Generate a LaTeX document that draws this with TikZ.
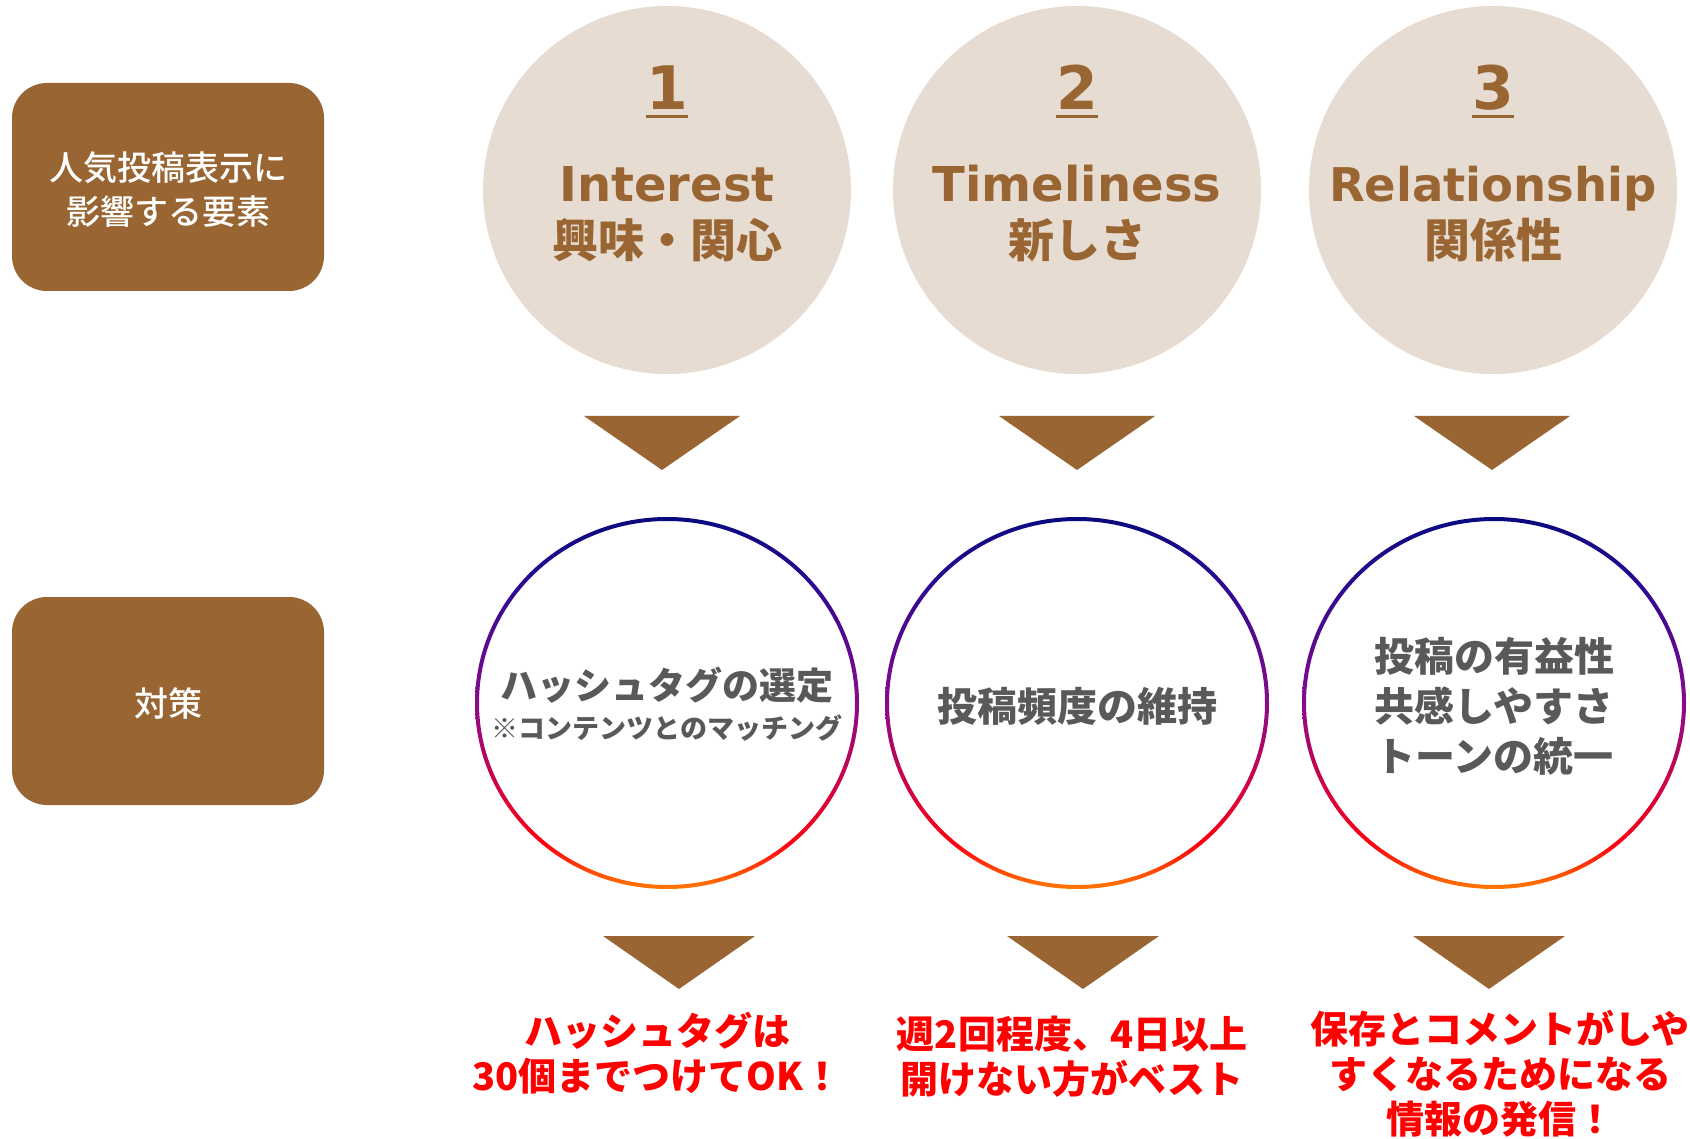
\documentclass[tikz,border=0pt]{standalone}
\usepackage{fontspec}
\setmainfont{DejaVu Sans}
\newfontfamily\jp{Noto Sans CJK JP}
\newfontfamily\jpm{Noto Sans CJK JP Medium}
\definecolor{brn}{HTML}{996633}
\definecolor{beige}{HTML}{E7DCD1}
\definecolor{gry}{HTML}{595959}
\definecolor{redtx}{HTML}{FF0000}
\definecolor{ringorange}{HTML}{FF7A00}
\definecolor{ringred}{HTML}{FF0010}
\definecolor{ringpurple}{HTML}{8A0A8C}
\definecolor{ringnavy}{HTML}{2A0A90}
\definecolor{ringnavytop}{HTML}{0A0A80}
\pgfdeclareverticalshading{ringshade}{100bp}{color(0bp)=(ringorange); color(25bp)=(ringorange); color(31bp)=(ringred); color(50bp)=(ringpurple); color(66bp)=(ringnavy); color(75bp)=(ringnavytop); color(100bp)=(ringnavytop)}
\begin{document}
\begin{tikzpicture}[x=1pt,y=-1pt,
  leftbox/.style={fill=brn, rounded corners=35pt, minimum width=312pt, minimum height=208pt, inner sep=0},
  boxlabel/.style={text=white, font=\jpm\fontsize{34}{44}\selectfont, align=center, inner sep=0},
  topcirc/.style={circle, fill=beige, minimum size=368pt, inner sep=0},
  numtext/.style={text=brn, font=\bfseries\fontsize{60}{60}\selectfont, inner sep=0, anchor=base},
  entext/.style={text=brn, font=\bfseries\fontsize{48}{48}\selectfont, inner sep=0, anchor=base},
  jptext/.style={text=brn, font=\jp\bfseries\fontsize{46}{46}\selectfont, inner sep=0},
  ringtext/.style={text=gry, font=\jp\bfseries\fontsize{40}{50}\selectfont, align=center, inner sep=0},
  redtext/.style={text=redtx, font=\jp\bfseries\fontsize{38}{45}\selectfont, align=center, inner sep=0},
  ulin/.style={brn, line width=3pt}
]
\useasboundingbox (0,0) rectangle (1690,1139);

% left labels
\node[leftbox] (b1) at (168,187) {};
\node[boxlabel] (b1t) at (168,190) {人気投稿表示に\\影響する要素};
\node[leftbox] (b2) at (168,701) {};
\node[boxlabel] (b2t) at (168,703) {対策};

% top circles
\node[topcirc] (c1) at (667,190) {};
\node[topcirc] (c2) at (1077,190) {};
\node[topcirc] (c3) at (1493,190) {};

\node[numtext] (n1) at (667,110) {1};
\node[numtext] (n2) at (1077,110) {2};
\node[numtext] (n3) at (1493,110) {3};
\draw[ulin] ([yshift=-7pt]n1.base west) -- ([yshift=-7pt]n1.base east);
\draw[ulin] ([yshift=-7pt]n2.base west) -- ([yshift=-7pt]n2.base east);
\draw[ulin] ([yshift=-7pt]n3.base west) -- ([yshift=-7pt]n3.base east);

\node[entext] (e1) at (667,202) {Interest};
\node[entext] (e2) at (1077,202) {Timeliness};
\node[entext, font=\bfseries\fontsize{46.5}{46.5}\selectfont] (e3) at (1493,202) {Relationship};

\node[jptext] (j1) at (667,240) {興味・関心};
\node[jptext] (j2) at (1077,240) {新しさ};
\node[jptext] (j3) at (1493,240) {関係性};

% upper triangles
\foreach \cx in {662,1077,1492}
  \fill[brn] (\cx-78,416) -- (\cx+78,416) -- (\cx,470) -- cycle;

% gradient rings
\foreach \cx in {667,1077,1494}
  \shade[shading=ringshade, even odd rule] (\cx,703) ellipse [x radius=192, y radius=186] (\cx,703) ellipse [x radius=188, y radius=182];

\node[ringtext, font=\jp\bfseries\fontsize{37}{37}\selectfont] (t1a) at (667,685) {ハッシュタグの選定};
\node[ringtext, font=\jp\bfseries\fontsize{27}{27}\selectfont] (t1b) at (667,728) {※コンテンツとのマッチング};
\node[ringtext] (t2) at (1077,706) {投稿頻度の維持};
\node[ringtext] (t3) at (1494,706) {投稿の有益性\\共感しやすさ\\トーンの統一};

% lower triangles
\foreach \cx in {679,1083,1489}
  \fill[brn] (\cx-76,936) -- (\cx+76,936) -- (\cx,989) -- cycle;

% red conclusions
\node[redtext] (r1) at (657,1053) {ハッシュタグは\\30個までつけてOK！};
\node[redtext] (r2) at (1072,1057) {週2回程度、4日以上\\開けない方がベスト};
\node[redtext] (r3) at (1500,1074) {保存とコメントがしや\\すくなるためになる\\情報の発信！};
\end{tikzpicture}
\end{document}
